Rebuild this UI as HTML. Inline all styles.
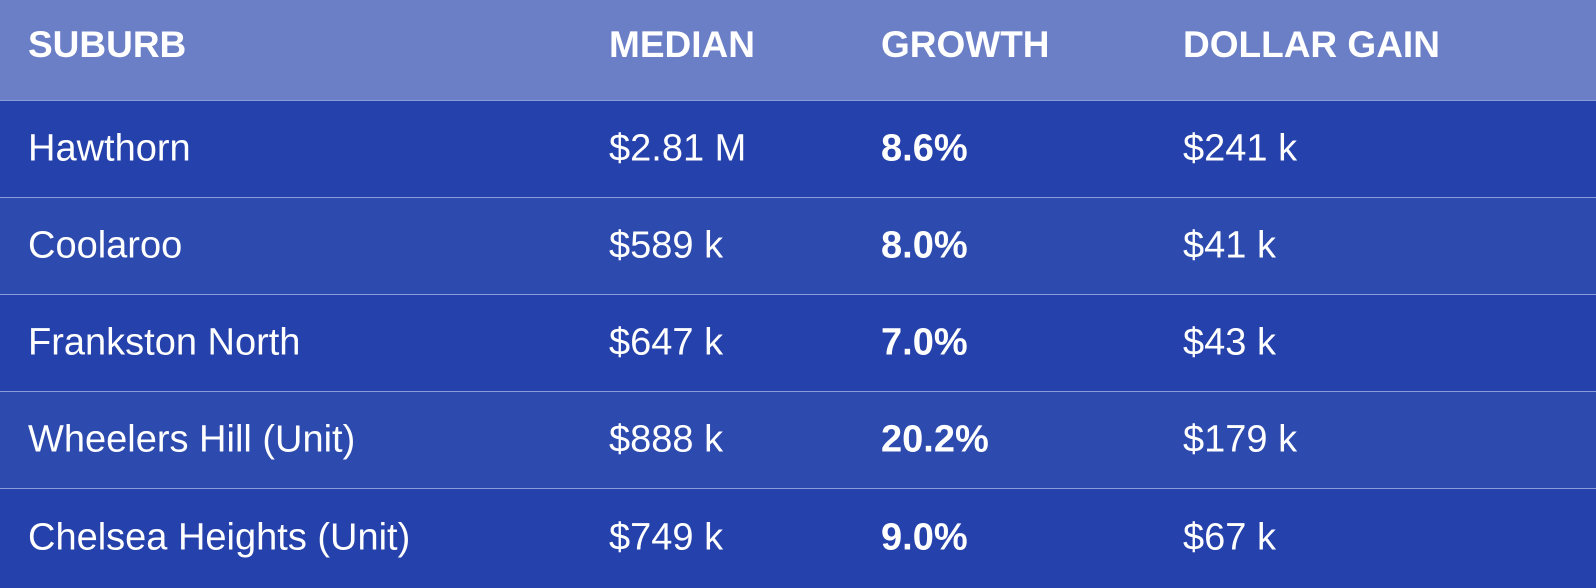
<!DOCTYPE html>
<html><head><style>
body{margin:0;width:1596px;height:588px;overflow:hidden;background:#2541ab;font-family:"Liberation Sans",Arial,sans-serif;color:#fff}
.r{position:absolute;left:0;width:1596px}
.r span{position:absolute;top:50%;transform:translateY(-50%);font-size:38px;white-space:nowrap}
.h{background:#6b7fc7;top:0;height:100px}
.h span{font-weight:bold;top:45%;font-size:37px}
.b{font-weight:bold}
.line{position:absolute;left:0;width:1596px;height:1px;background:#8b9cdc}
</style></head><body>
<div class="r h"><span style="left:28px">SUBURB</span><span style="left:609px">MEDIAN</span><span style="left:881px">GROWTH</span><span style="left:1183px">DOLLAR GAIN</span></div>
<div class="r" style="top:100px;height:97px;background:#2541ab"><span style="left:28px">Hawthorn</span><span style="left:609px">$2.81 M</span><span class="b" style="left:881px">8.6%</span><span style="left:1183px">$241 k</span></div>
<div class="r" style="top:197px;height:97px;background:#2d4aae"><span style="left:28px">Coolaroo</span><span style="left:609px">$589 k</span><span class="b" style="left:881px">8.0%</span><span style="left:1183px">$41 k</span></div>
<div class="r" style="top:294px;height:97px;background:#2541ab"><span style="left:28px">Frankston North</span><span style="left:609px">$647 k</span><span class="b" style="left:881px">7.0%</span><span style="left:1183px">$43 k</span></div>
<div class="r" style="top:391px;height:97px;background:#2d4aae"><span style="left:28px">Wheelers Hill (Unit)</span><span style="left:609px">$888 k</span><span class="b" style="left:881px">20.2%</span><span style="left:1183px">$179 k</span></div>
<div class="r" style="top:488px;height:100px;background:#2541ab"><span style="left:28px">Chelsea Heights (Unit)</span><span style="left:609px">$749 k</span><span class="b" style="left:881px">9.0%</span><span style="left:1183px">$67 k</span></div>
<div class="line" style="top:100px"></div><div class="line" style="top:197px"></div><div class="line" style="top:294px"></div><div class="line" style="top:391px"></div><div class="line" style="top:488px"></div>
</body></html>
